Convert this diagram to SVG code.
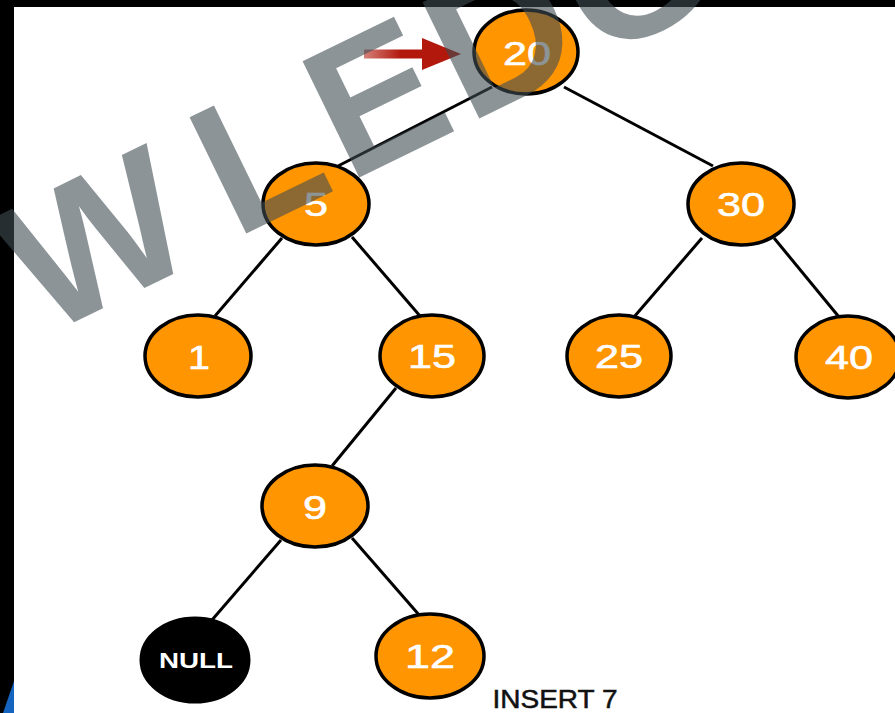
<svg xmlns="http://www.w3.org/2000/svg" width="895" height="713" viewBox="0 0 895 713">
<defs>
<style>
.node ellipse{fill:#ff9500;stroke:#000;stroke-width:3.5}
.null ellipse{fill:#000;stroke:#000;stroke-width:3}
.lbl{font-family:"Liberation Sans",Arial,sans-serif;fill:#fff;font-size:33px;text-anchor:middle;stroke:#fff;stroke-width:0.6}
.edges line{stroke:#000;stroke-width:3}
.wm{font-family:"Liberation Sans",Arial,sans-serif;font-weight:bold;font-size:188px;fill:#404d54;fill-opacity:0.6}
</style>
<linearGradient id="shaft" x1="0" y1="0" x2="1" y2="0">
<stop offset="0" stop-color="#b2180c" stop-opacity="0.55"/>
<stop offset="0.6" stop-color="#b2180c" stop-opacity="1"/>
</linearGradient>
</defs>
<rect x="0" y="0" width="895" height="713" fill="#fff"/>
<rect x="0" y="0" width="895" height="7" fill="#000"/>
<rect x="0" y="0" width="14" height="713" fill="#000"/>
<polygon points="14,681 14,713 3,713" fill="#1565c0"/>

<g id="connectors" class="edges">
<line x1="492" y1="87" x2="338" y2="166"/>
<line x1="564" y1="87" x2="713" y2="166"/>
<line x1="282" y1="238" x2="215" y2="316"/>
<line x1="352" y1="237" x2="420" y2="316"/>
<line x1="702" y1="238" x2="634" y2="317"/>
<line x1="774" y1="238" x2="839" y2="317"/>
<line x1="396" y1="388" x2="332" y2="466"/>
<line x1="281" y1="540" x2="212" y2="620"/>
<line x1="352" y1="538" x2="420" y2="616"/>
</g>

<g id="arrow">
<rect x="364" y="49.5" width="62" height="9" fill="url(#shaft)"/>
<polygon points="422,38 461,54 422,70" fill="#b2180c"/>
</g>

<g id="n20" class="node"><ellipse cx="526" cy="52" rx="52" ry="42"/><text class="lbl" x="527" y="65" textLength="48" lengthAdjust="spacingAndGlyphs">20</text></g>
<g id="n5" class="node"><ellipse cx="316" cy="204" rx="53" ry="41"/><text class="lbl" x="316" y="216" textLength="24" lengthAdjust="spacingAndGlyphs">5</text></g>
<g id="n30" class="node"><ellipse cx="741" cy="204" rx="53" ry="41"/><text class="lbl" x="741" y="216" textLength="48" lengthAdjust="spacingAndGlyphs">30</text></g>
<g id="n1" class="node"><ellipse cx="198" cy="356" rx="53" ry="41"/><text class="lbl" x="199" y="369" textLength="22" lengthAdjust="spacingAndGlyphs">1</text></g>
<g id="n15" class="node"><ellipse cx="432" cy="356" rx="52" ry="41"/><text class="lbl" x="432" y="368" textLength="48" lengthAdjust="spacingAndGlyphs">15</text></g>
<g id="n25" class="node"><ellipse cx="619" cy="356" rx="52" ry="41"/><text class="lbl" x="619" y="368" textLength="48" lengthAdjust="spacingAndGlyphs">25</text></g>
<g id="n40" class="node"><ellipse cx="848" cy="357" rx="52" ry="41"/><text class="lbl" x="849" y="369" textLength="48" lengthAdjust="spacingAndGlyphs">40</text></g>
<g id="n9" class="node"><ellipse cx="315" cy="506" rx="53" ry="41"/><text class="lbl" x="315" y="519" textLength="24" lengthAdjust="spacingAndGlyphs">9</text></g>
<g id="nnull" class="null"><ellipse cx="195" cy="660" rx="54" ry="42"/><text x="196" y="668" font-family="Liberation Sans, Arial, sans-serif" font-weight="bold" font-size="22" fill="#fff" text-anchor="middle" textLength="74" lengthAdjust="spacingAndGlyphs">NULL</text></g>
<g id="n12" class="node"><ellipse cx="430" cy="656" rx="54" ry="42"/><text class="lbl" x="430" y="668" textLength="50" lengthAdjust="spacingAndGlyphs">12</text></g>

<text id="caption" x="555" y="708" font-family="Liberation Sans, Arial, sans-serif" font-size="25" fill="#111" stroke="#111" stroke-width="0.5" text-anchor="middle" textLength="125" lengthAdjust="spacingAndGlyphs">INSERT 7</text>

<g id="watermark">
<text class="wm" transform="translate(44,337) rotate(-26)">W</text>
<text class="wm" transform="translate(235,239) rotate(-26)">L</text>
<text class="wm" transform="translate(348,183) rotate(-26)">E</text>
<text class="wm" transform="translate(468,124) rotate(-26)">D</text>
<text class="wm" transform="translate(597,61) rotate(-26)">G</text>
</g>
</svg>
